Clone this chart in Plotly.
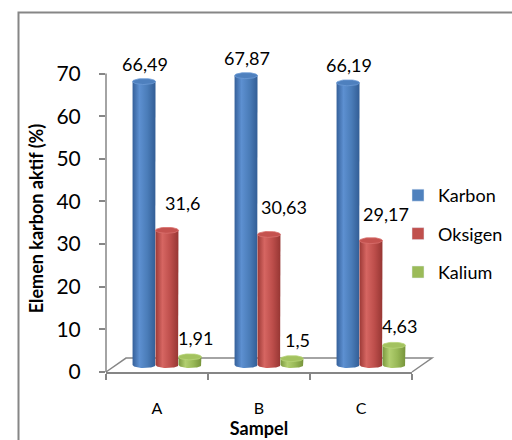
import numpy as np
import plotly.graph_objects as go

# ---- data -------------------------------------------------------------
samples = ["A", "B", "C"]
series = ["Karbon", "Oksigen", "Kalium"]
karbon = [66.49, 67.87, 66.19]
oksigen = [31.6, 30.63, 29.17]
kalium = [1.91, 1.5, 4.63]
y_ticks = [0, 10, 20, 30, 40, 50, 60, 70]

# ---- style --------------------------------------------------------------
base_colors = ["#4F81BD", "#C0504D", "#9BBB59"]
body_shades = [
    [[0, "#35609A"], [0.3, "#5D90D1"], [0.65, "#4A7CB8"], [1, "#325D95"]],
    [[0, "#9C3936"], [0.3, "#D66662"], [0.65, "#BD4E4B"], [1, "#963633"]],
    [[0, "#7A983E"], [0.3, "#B2CF70"], [0.65, "#98B856"], [1, "#77943B"]],
]
cap_fill = ["#4E80BE", "#C4524F", "#A3C25F"]
cap_line = ["#6C9AD6", "#D9706D", "#B8D477"]
label_shift = [(1, 15), (15, 24), (6, 16)]  # (xshift, yshift) per series, px
GREY = "#868686"
FONT = "Lato"

# plot-area geometry (px) and axis extents
L, R, T, B = 106, 412, 65, 372
W, H = 512, 440
Y_MAX = 72
X_MIN, X_MAX = -0.5, 2.5
BAR_W = 0.225
DEPTH_X, DEPTH_Y = 0.196, 3.28   # depth of the 3-D floor in axis units
CAP_B = 0.70                     # half-height of the cylinder ellipses


def paper_x(xv):
    return (xv - X_MIN) / (X_MAX - X_MIN)


def paper_y(yv):
    return yv / Y_MAX


def px_x(p):
    return (p - L) / (R - L)


def px_y(p):
    return (B - p) / (B - T)


def fmt(v):
    return f"{v:g}".replace(".", ",")


fig = go.Figure()
annotations = []

t_half = np.linspace(0, np.pi, 25)
t_full = np.linspace(0, 2 * np.pi, 49)
a = BAR_W / 2
base = DEPTH_Y / 2

for s, vals in enumerate([karbon, oksigen, kalium]):
    for i, v in enumerate(vals):
        xc = i + (s - 1) * BAR_W + DEPTH_X / 2
        top = base + v
        # cylinder body: sides, top edge, front half of the base ellipse
        bx = [xc - a, xc - a, xc + a, xc + a] + list(xc + a * np.cos(t_half))
        by = [base, top, top, base] + list(base - CAP_B * np.sin(t_half))
        fig.add_trace(go.Scatter(
            x=bx, y=by, mode="lines", fill="toself",
            fillgradient=dict(type="horizontal", colorscale=body_shades[s]),
            line=dict(width=0), hoverinfo="skip", showlegend=False))
        # cylinder lid
        fig.add_trace(go.Scatter(
            x=xc + a * np.cos(t_full), y=top + CAP_B * np.sin(t_full),
            mode="lines", fill="toself", fillcolor=cap_fill[s],
            line=dict(width=0.8, color=cap_line[s]),
            hoverinfo="skip", showlegend=False))
        annotations.append(dict(
            x=xc, y=top + CAP_B, xref="x", yref="y", text=fmt(v),
            showarrow=False, xshift=label_shift[s][0], yshift=label_shift[s][1],
            font=dict(size=18, family=FONT, color="black")))

# legend entries
for s, name in enumerate(series):
    fig.add_trace(go.Bar(x=[None], y=[None], name=name, legendgroup=name,
                         marker=dict(color=base_colors[s])))

shapes = [
    # outer chart frame
    dict(type="rect", xref="paper", yref="paper",
         x0=px_x(18.5), x1=px_x(540), y0=px_y(470), y1=px_y(12.5),
         line=dict(color=GREY, width=2), layer="below"),
    # floor outline (front edge is the x axis line)
    dict(type="path", xref="paper", yref="paper", layer="below",
         path=(f"M{paper_x(X_MIN)},{paper_y(0)} "
               f"L{paper_x(X_MIN + DEPTH_X)},{paper_y(DEPTH_Y)} "
               f"L{paper_x(X_MAX + DEPTH_X)},{paper_y(DEPTH_Y)} "
               f"L{paper_x(X_MAX)},{paper_y(0)}"),
         line=dict(color=GREY, width=1.5)),
    # value axis line, 0 to 70
    dict(type="line", xref="paper", yref="paper",
         x0=0, x1=0, y0=paper_y(y_ticks[0]), y1=paper_y(y_ticks[-1]),
         line=dict(color=GREY, width=1.5)),
]

fig.update_layout(
    width=W, height=H,
    margin=dict(l=L, r=W - R, t=T, b=H - B, pad=0, autoexpand=False),
    paper_bgcolor="white", plot_bgcolor="rgba(0,0,0,0)",
    font=dict(family=FONT, color="black"),
    showlegend=True,
    xaxis=dict(
        range=[X_MIN, X_MAX], tickvals=[0, 1, 2], ticktext=samples, ticks="",
        showgrid=False, zeroline=False, showline=True, linecolor=GREY,
        linewidth=1.5, tickfont=dict(size=16), ticklabelstandoff=21,
        minor=dict(tickmode="linear", tick0=X_MIN, dtick=1, ticks="outside",
                   ticklen=6, tickcolor=GREY, tickwidth=1.5, showgrid=False),
        title=dict(text="<b>Sampel</b>", font=dict(size=18), standoff=2),
        fixedrange=True),
    yaxis=dict(
        range=[0, Y_MAX], tickvals=y_ticks, ticks="outside", ticklen=6,
        tickcolor=GREY, tickwidth=1.5, showline=False, showgrid=False,
        zeroline=False, tickfont=dict(size=21), ticklabelstandoff=14,
        title=dict(text="<b>Elemen karbon aktif (%)</b>", font=dict(size=18),
                   standoff=8),
        fixedrange=True),
    legend=dict(x=px_x(398), xanchor="left", y=px_y(177), yanchor="top",
                font=dict(size=18), tracegroupgap=12,
                bgcolor="rgba(0,0,0,0)"),
    shapes=shapes,
    annotations=annotations,
)

fig.write_html("out.html")
